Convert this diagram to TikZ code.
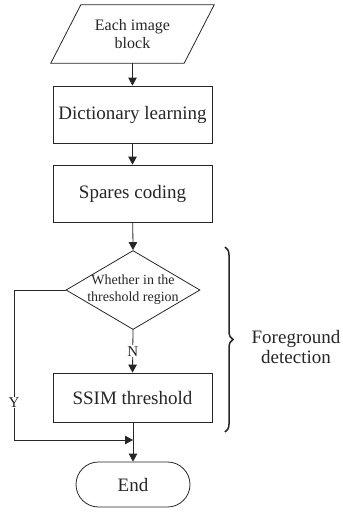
\documentclass[tikz,border=0pt]{standalone}
\usepackage{fontspec}
\setmainfont{Liberation Serif}
\usetikzlibrary{shapes.geometric,shapes.misc,arrows.meta,decorations.pathreplacing}

\tikzset{
    box/.style={draw, line width=0.8pt, minimum width=159pt, inner sep=0pt, font=\fontsize{19}{21}\selectfont},
    flow/.style={line width=0.8pt, -{Triangle[length=8pt,width=8.5pt]}},
    yn/.style={fill=white, inner sep=1pt, font=\fontsize{15}{17}\selectfont}
}

\begin{document}
\begin{tikzpicture}[x=1pt,y=-1pt,color=black!85]
        \useasboundingbox (0,0) rectangle (343,512);

        \node[minimum width=103pt, minimum height=58pt, inner sep=0pt,
              align=center, font=\fontsize{16}{18}\selectfont] (input) at (132.5,34) {Each image\\block};
        \draw[line width=0.8pt] (input.north west) -- ([xshift=30pt]input.north east)
            -- (input.south east) -- ([xshift=-30pt]input.south west) -- cycle;
        \node[box, minimum height=57pt] (dict) at (132.5,114.5) {Dictionary learning};
        \node[box, minimum height=57pt] (coding) at (132.5,193.5) {Spares coding};
        \node[draw, line width=0.8pt, diamond, minimum width=134pt, minimum height=79pt, inner sep=0pt] (check) at (133,290) {};
        \node[align=center, font=\fontsize{14}{17}\selectfont] (checktext) at (check.center) {Whether in the\\threshold region};
        \node[box, minimum height=49pt] (ssim) at (132.5,397.5) {SSIM threshold};
        \node[draw, line width=0.8pt, rounded rectangle, minimum width=114pt, minimum height=45pt, inner sep=0pt,
              font=\fontsize{19}{21}\selectfont] (stop) at (133,484.5) {End};

        \coordinate (corner) at (14,290);
        \coordinate (join) at (133,440);

        \draw[flow] (input.south -| dict.north) -- (dict.north);
        \draw[flow] (dict) -- (coding);
        \draw[flow] (coding) -- (check.north);
        \draw[flow] (check.south) -- node[yn] {N} (ssim.north);
        \draw[flow] (ssim.south -| stop.north) -- (stop.north);
        \draw[flow] (check.west) -- (corner) -- node[yn, pos=0.75] {Y} (corner |- join) -- (join);

        % bracket over the detection steps
        \draw[line width=1.5pt, decorate, decoration={brace, amplitude=8pt}] (225,247) -- (225,432);
        \node[align=center, font=\fontsize{19}{20}\selectfont] (fgtext) at (296,347) {Foreground\\detection};
    \end{tikzpicture}
\end{document}
